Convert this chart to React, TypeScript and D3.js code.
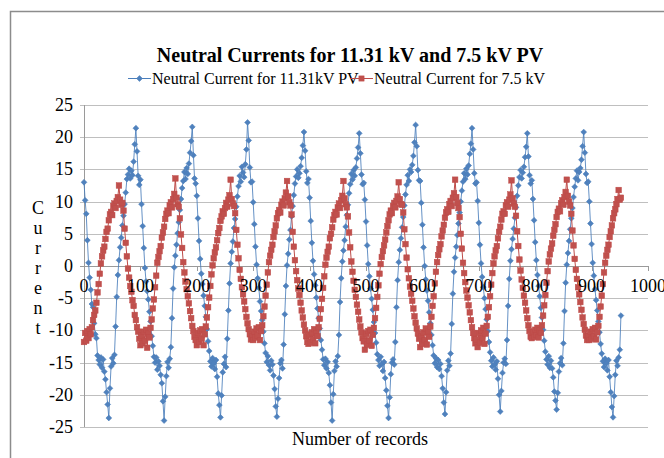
import React from 'react';
import * as d3 from 'd3';

// ---- data ----
const xTicks = [0, 100, 200, 300, 400, 500, 600, 700, 800, 900, 1000];
const yTicks = [25, 20, 15, 10, 5, 0, -5, -10, -15, -20, -25];
const yTitleLetters = ['C', 'u', 'r', 'r', 'e', 'n', 't'];
const recordStep = 2; // one plotted value every 2 records

const neutral1131kV = [
  13.0, 10.2, 8.1, 4.0, 0.5, -1.8, -3.7, -5.9, -6.4, -8.9, -10.6, -11.2, -13.9, -14.6, -15.3, -14.2, -15.8, -14.5, -16.4, -17.6, -19.6, -21.5, -23.6, -19.0, -15.6, -14.3, -15.1, -13.8, -9.4, -4.8, -1.4, 0.9, 2.9, 4.4, 6.3, 7.8, 9.6, 11.4, 13.5, 14.2, 15.1, 13.6, 14.8, 14.1, 16.2, 18.9, 21.4, 17.8, 14.0, 12.6,
  13.4, 9.6, 6.2, 2.8, -0.3, -2.4, -3.9, -5.2, -7.1, -8.6, -10.9, -12.4, -14.1, -15.0, -14.2, -16.1, -14.8, -15.5, -16.9, -18.2, -21.0, -24.0, -20.3, -17.1, -14.9, -15.8, -14.4, -12.6, -8.1, -3.5, -0.2, 1.6, 3.3, 5.1, 6.8, 8.7, 10.4, 12.1, 13.2, 14.6, 13.5, 15.2, 14.3, 15.9, 17.6, 19.4, 21.6, 17.2, 13.6,
  12.8, 10.9, 7.4, 3.9, 1.1, -1.2, -2.8, -4.6, -6.2, -7.9, -9.8, -11.7, -13.2, -14.8, -15.6, -14.3, -15.1, -16.0, -14.6, -17.2, -19.8, -21.6, -23.5, -20.1, -16.5, -15.2, -14.1, -15.7, -11.3, -6.9, -2.7, 0.4, 2.2, 3.8, 5.9, 7.3, 9.2, 10.8, 12.4, 14.0, 13.1, 15.4, 14.5, 13.8, 15.8, 18.1, 22.3, 19.5, 15.3, 13.0,
  13.1, 9.9, 6.5, 3.0, 0.2, -1.9, -3.4, -5.5, -7.0, -8.4, -10.2, -12.0, -13.5, -14.9, -14.0, -15.4, -16.2, -14.7, -15.3, -17.0, -19.1, -21.8, -23.4, -20.6, -17.4, -15.1, -14.6, -15.9, -12.2, -7.5, -3.1, 0.1, 1.9, 4.1, 5.6, 7.7, 9.3, 11.0, 12.8, 13.9, 15.0, 13.7, 14.4, 15.5, 16.8, 18.7, 20.8, 17.9, 14.7, 12.9,
  13.5, 10.6, 7.0, 3.6, 0.8, -1.3, -3.0, -4.9, -6.6, -8.1, -9.7, -11.5, -13.0, -14.5, -15.4, -14.4, -15.9, -14.9, -16.6, -18.5, -21.2, -24.0, -19.9, -16.3, -14.8, -15.6, -14.0, -10.7, -5.6, -1.9, 0.7, 2.4, 4.0, 6.1, 7.9, 9.5, 11.3, 12.7, 14.3, 13.4, 14.9, 14.0, 15.3, 16.7, 18.4, 20.6, 17.5, 14.2, 12.7,
  12.9, 10.3, 6.9, 3.2, 0.3, -1.6, -3.5, -5.1, -6.8, -8.7, -10.4, -11.9, -13.7, -14.6, -15.5, -14.1, -15.2, -16.3, -14.9, -17.4, -19.3, -21.7, -23.6, -20.4, -16.8, -15.0, -14.5, -15.3, -11.8, -6.4, -2.2, 0.6, 2.5, 4.3, 6.0, 7.6, 9.4, 11.1, 12.6, 14.1, 13.2, 15.0, 14.6, 15.7, 17.1, 19.2, 21.9, 18.6, 14.9, 13.3,
  13.2, 9.8, 6.4, 2.9, 0.0, -2.1, -3.8, -5.4, -7.2, -8.9, -10.7, -12.3, -13.9, -15.1, -14.3, -15.7, -14.6, -16.0, -15.2, -17.1, -19.0, -21.2, -23.0, -19.6, -16.2, -14.7, -15.5, -13.6, -9.0, -4.3, -0.9, 1.3, 3.0, 4.8, 6.6, 8.3, 10.0, 11.7, 13.1, 14.4, 13.5, 15.1, 14.2, 15.6, 17.4, 19.0, 21.4, 18.1, 14.4, 12.8,
  13.0, 10.1, 6.7, 3.3, 0.4, -1.7, -3.3, -5.0, -6.7, -8.3, -10.1, -11.8, -13.4, -14.7, -15.6, -14.2, -15.3, -16.1, -14.8, -17.5, -20.0, -22.6, -19.4, -16.6, -15.0, -14.4, -15.2, -11.5, -6.2, -2.0, 0.8, 2.6, 4.2, 5.8, 7.5, 9.1, 10.9, 12.5, 13.8, 14.9, 13.6, 14.5, 15.4, 16.9, 18.5, 20.6, 17.0, 14.1, 12.8,
  13.3, 10.4, 7.1, 3.7, 0.9, -1.4, -3.1, -4.7, -6.5, -8.0, -9.9, -11.6, -13.3, -14.5, -15.3, -14.0, -15.8, -14.7, -15.9, -17.3, -19.5, -20.9, -22.3, -19.7, -16.4, -15.1, -14.3, -15.4, -12.0, -7.0, -2.6, 0.2, 2.0, 3.9, 5.7, 7.4, 9.0, 10.7, 12.3, 13.6, 14.8, 13.3, 14.6, 15.2, 16.5, 18.6, 20.8, 17.6, 14.3, 12.9,
  13.1, 10.0, 6.6, 3.4, 0.5, -1.5, -3.6, -5.3, -6.9, -8.6, -10.3, -12.1, -13.6, -14.8, -15.7, -14.4, -15.1, -16.2, -14.6, -17.2, -19.6, -21.9, -23.5, -20.2, -16.9, -14.7, -15.5, -14.2, -13.0, -7.7,
];

const neutral75kV = [
  -11.8, -10.4, -11.6, -10.1, -11.2, -9.8, -10.6, -9.5, -8.4, -7.6, -6.9, -5.7, -4.1, -2.8, -1.2, 0.4, 1.5, 2.4, 3.0, 4.2, 5.3, 5.8, 7.1, 8.0, 8.4, 7.9, 9.3, 9.7, 9.0, 10.1, 10.7, 12.5, 10.3, 9.5, 9.8, 8.6, 5.8, 3.6, 1.5, -0.4, -1.8, -3.1, -4.0, -5.3, -6.2, -7.6, -8.4, -9.5, -10.2, -11.3,
  -12.3, -10.8, -12.0, -10.2, -11.6, -9.9, -12.7, -10.5, -11.1, -9.6, -8.3, -6.6, -5.2, -3.3, -1.5, 0.5, 1.4, 2.3, 3.1, 4.4, 5.2, 6.1, 7.3, 8.1, 8.6, 8.2, 9.4, 9.9, 9.1, 10.4, 11.2, 13.6, 10.6, 9.6, 9.2, 7.4, 4.9, 2.8, 0.6, -1.0, -2.4, -3.6, -4.7, -5.8, -7.0, -8.1, -9.3, -10.1, -11.0,
  -11.5, -12.3, -10.4, -11.8, -10.0, -11.3, -9.8, -12.3, -10.6, -9.4, -8.0, -6.4, -4.9, -3.1, -1.3, 0.1, 1.2, 2.1, 2.9, 4.0, 5.1, 5.9, 7.0, 7.7, 8.5, 8.1, 9.0, 9.8, 9.2, 10.3, 11.0, 13.4, 10.4, 9.7, 9.3, 8.2, 5.6, 3.3, 1.2, -0.6, -2.0, -3.3, -4.4, -5.5, -6.7, -7.9, -8.9, -9.8, -10.6, -11.4,
  -10.9, -11.5, -10.2, -11.1, -9.7, -10.8, -9.5, -11.5, -10.1, -9.2, -7.8, -6.3, -4.6, -2.9, -1.0, 0.6, 1.6, 2.5, 3.3, 4.5, 5.4, 6.3, 7.4, 8.2, 8.7, 8.3, 9.5, 10.0, 9.4, 10.5, 11.4, 13.2, 10.8, 9.9, 9.4, 8.0, 5.3, 3.0, 0.9, -0.8, -2.2, -3.5, -4.5, -5.7, -6.9, -8.0, -9.1, -10.0, -10.9, -11.8,
  -12.1, -10.6, -11.9, -10.3, -11.4, -9.8, -12.0, -10.4, -10.9, -9.5, -8.2, -6.7, -5.1, -3.4, -1.6, 0.2, 1.3, 2.2, 3.0, 4.3, 5.0, 6.0, 7.2, 7.9, 8.4, 8.0, 9.1, 9.7, 9.0, 10.2, 10.9, 13.2, 10.5, 9.6, 9.1, 7.7, 5.2, 2.9, 0.7, -0.9, -2.3, -3.7, -4.8, -6.0, -7.1, -8.3, -9.4, -10.3, -11.2,
  -11.7, -13.0, -10.5, -12.2, -10.1, -11.6, -9.9, -12.4, -10.7, -9.6, -8.1, -6.5, -4.8, -3.0, -1.2, 0.3, 1.4, 2.3, 3.2, 4.1, 5.2, 6.2, 7.1, 8.0, 8.6, 8.2, 9.3, 9.8, 9.1, 10.1, 10.8, 13.0, 10.4, 9.6, 9.5, 8.3, 5.7, 3.4, 1.3, -0.5, -1.9, -3.2, -4.3, -5.4, -6.6, -7.8, -8.8, -9.7, -10.5, -11.3,
  -12.6, -10.9, -12.1, -10.3, -11.5, -9.7, -12.2, -10.2, -11.0, -9.4, -7.9, -6.2, -4.7, -2.7, -0.9, 0.6, 1.7, 2.6, 3.4, 4.6, 5.5, 6.4, 7.5, 8.3, 8.8, 8.4, 9.6, 10.1, 9.3, 10.6, 11.3, 13.4, 10.7, 9.8, 9.0, 7.6, 5.0, 2.7, 0.5, -1.1, -2.5, -3.8, -4.9, -6.1, -7.2, -8.4, -9.5, -10.4, -11.2, -12.0,
  -11.4, -12.6, -10.4, -11.9, -10.0, -11.2, -9.6, -12.1, -10.5, -9.3, -7.9, -6.4, -4.7, -2.9, -1.1, 0.4, 1.5, 2.4, 3.1, 4.3, 5.3, 6.1, 7.2, 8.1, 8.5, 8.1, 9.4, 9.9, 9.2, 10.3, 11.1, 13.3, 10.5, 9.7, 9.2, 7.8, 5.4, 3.1, 1.0, -0.7, -2.1, -3.4, -4.6, -5.7, -6.9, -8.1, -9.2, -10.1, -11.0,
  -11.2, -10.3, -11.0, -9.9, -10.7, -9.6, -11.1, -10.0, -10.4, -9.2, -7.7, -6.1, -4.5, -2.6, -0.8, 0.7, 1.8, 2.7, 3.5, 4.7, 5.6, 6.5, 7.6, 8.4, 8.9, 8.5, 9.7, 10.2, 9.5, 10.7, 11.5, 13.4, 10.9, 10.0, 9.4, 8.1, 5.5, 3.2, 1.1, -0.6, -2.0, -3.3, -4.4, -5.6, -6.8, -8.0, -9.0, -9.9, -10.8, -11.5,
  -10.9, -11.5, -10.2, -11.3, -9.8, -10.9, -9.6, -11.4, -10.3, -9.3, -7.9, -6.3, -4.6, -2.8, -1.0, 0.5, 1.6, 2.5, 3.3, 4.5, 5.4, 6.3, 7.4, 8.2, 8.8, 9.6, 10.4, 11.8, 10.3, 10.6,
];

const seriesNames = ['Neutral Current for 11.31kV PV', 'Neutral Current for 7.5 kV'];
const titleText = 'Neutral Currents for 11.31 kV and 7.5 kV PV';
const xTitle = 'Number of records';

const BLUE_LINE = '#4A7EBB';
const BLUE_FILL = '#4F81BD';
const RED_LINE = '#BE4B48';
const RED_FILL = '#C0504D';
const GRID = '#BFBFBF';
const AXIS = '#9A9A9A';
const FONT = "'Liberation Serif', 'Times New Roman', serif";

const diamond = (r: number) => `M0,${-r}L${r},0L0,${r}L${-r},0Z`;

export default function App() {
  const W = 664;
  const H = 458;
  const x = d3.scaleLinear().domain([0, 1000]).range([84, 648]);
  const y = d3.scaleLinear().domain([-25, 25]).range([427, 105]);
  const line = d3
    .line<number>()
    .x((_, i) => x(i * recordStep))
    .y((d) => y(d));

  const sq = 5.6;

  return (
    <svg
      width={W}
      height={H}
      style={{ position: 'absolute', left: 0, top: 0, background: '#fff' }}
      fontFamily={FONT}
    >
      <rect x={0} y={0} width={W} height={H} fill="#fff" />
      {/* chart area border */}
      <rect x={10.5} y={11.5} width={720} height={520} fill="none" stroke="#8C8C8C" strokeWidth={1.5} />

      {/* gridlines */}
      {yTicks.map((t) => (
        <line key={'g' + t} x1={x(0) - 4} x2={x(1000)} y1={Math.round(y(t)) + 0.5} y2={Math.round(y(t)) + 0.5} stroke={t === 0 ? AXIS : GRID} strokeWidth={1} />
      ))}
      {/* y axis line */}
      <line x1={x(0) + 0.5} x2={x(0) + 0.5} y1={y(25)} y2={y(-25)} stroke={AXIS} strokeWidth={1} />
      {/* x ticks on the zero line */}
      {xTicks.map((t) => (
        <line key={'xt' + t} x1={Math.round(x(t)) + 0.5} x2={Math.round(x(t)) + 0.5} y1={y(0)} y2={y(0) + 5} stroke={AXIS} strokeWidth={1} />
      ))}

      {/* y tick labels */}
      {yTicks.map((t) => (
        <text key={'yl' + t} x={73} y={y(t) + 6} textAnchor="end" fontSize={18} fill="#000">
          {t}
        </text>
      ))}

      {/* series 1 */}
      <path d={line(neutral1131kV) || ''} fill="none" stroke={BLUE_LINE} strokeWidth={1} strokeOpacity={0.85} />
      {neutral1131kV.map((v, i) => (
        <path key={'b' + i} d={diamond(2.9)} transform={`translate(${x(i * recordStep)},${y(v)})`} fill={BLUE_FILL} stroke={BLUE_LINE} strokeWidth={0.6} />
      ))}

      {/* series 2 */}
      <path d={line(neutral75kV) || ''} fill="none" stroke={RED_LINE} strokeWidth={1} />
      {neutral75kV.map((v, i) => (
        <rect key={'r' + i} x={x(i * recordStep) - sq / 2} y={y(v) - sq / 2} width={sq} height={sq} fill={RED_FILL} stroke={RED_LINE} strokeWidth={0.5} />
      ))}

      {/* x tick labels (drawn over the data, as in the reference) */}
      {xTicks.map((t) => (
        <text key={'xl' + t} x={x(t)} y={292} textAnchor="middle" fontSize={18} fill="#000">
          {t}
        </text>
      ))}

      {/* title */}
      <text x={350} y={62} textAnchor="middle" fontSize={20} fontWeight="bold" fill="#000">
        {titleText}
      </text>

      {/* legend */}
      <g>
        <line x1={128} x2={151} y1={78.5} y2={78.5} stroke={BLUE_LINE} strokeWidth={1} />
        <path d={diamond(2.9)} transform="translate(139.5,78.5)" fill={BLUE_FILL} stroke={BLUE_LINE} strokeWidth={0.6} />
        <text x={152} y={84} fontSize={16} fill="#000">{seriesNames[0]}</text>
        <line x1={350} x2={373} y1={78.5} y2={78.5} stroke={RED_LINE} strokeWidth={1} />
        <rect x={361.5 - 2.6} y={78.5 - 2.6} width={5.2} height={5.2} fill={RED_FILL} stroke={RED_LINE} strokeWidth={0.5} />
        <text x={374} y={84} fontSize={16} fill="#000">{seriesNames[1]}</text>
      </g>

      {/* y axis title, letters stacked */}
      <text x={38} textAnchor="middle" fontSize={18} fill="#000">
        {yTitleLetters.map((c, i) => (
          <tspan key={'c' + i} x={38} y={214 + i * 20}>
            {c}
          </tspan>
        ))}
      </text>

      {/* x axis title */}
      <text x={360} y={445} textAnchor="middle" fontSize={18} fill="#000">
        {xTitle}
      </text>
    </svg>
  );
}
